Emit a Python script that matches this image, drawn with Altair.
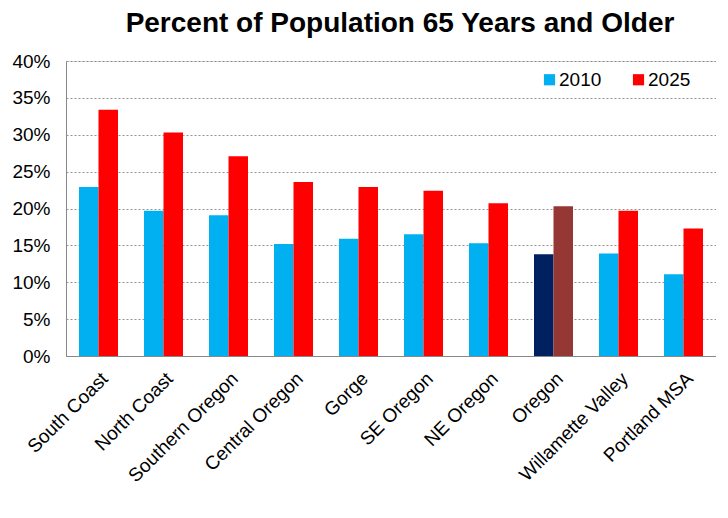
import altair as alt
import pandas as pd

regions = ["South Coast", "North Coast", "Southern Oregon", "Central Oregon", "Gorge",
           "SE Oregon", "NE Oregon", "Oregon", "Willamette Valley", "Portland MSA"]
pct_2010 = [22.9, 19.7, 19.1, 15.2, 15.9, 16.5, 15.3, 13.8, 13.9, 11.1]
pct_2025 = [33.4, 30.3, 27.1, 23.6, 22.9, 22.4, 20.7, 20.3, 19.7, 17.3]
years = ["2010", "2025"]
color_keys = ["2010", "2025", "Oregon 2010", "Oregon 2025"]
color_values = ["#00B0F0", "#FF0000", "#002060", "#953735"]

rows = []
for r, a, b in zip(regions, pct_2010, pct_2025):
    for y, v in zip(years, [a, b]):
        key = ("Oregon " + y) if r == "Oregon" else y
        rows.append({"region": r, "year": y, "value": v / 100.0, "key": key})
df = pd.DataFrame(rows)

chart = alt.Chart(df).mark_bar().encode(
    x=alt.X("region:N", sort=regions, title=None,
            scale=alt.Scale(paddingInner=0.4, paddingOuter=0.2),
            axis=alt.Axis(labelAngle=-45, labelAlign="right", labelBaseline="top",
                          labelFontSize=19, labelFont="Liberation Sans", labelColor="#000",
                          labelPadding=13, ticks=False, domainColor="#888", labelLimit=250)),
    xOffset=alt.XOffset("year:N", sort=years),
    y=alt.Y("value:Q", title=None,
            scale=alt.Scale(domain=[0, 0.4], nice=False),
            axis=alt.Axis(format=".0%", values=[0, 0.05, 0.1, 0.15, 0.2, 0.25, 0.3, 0.35, 0.4],
                          labelFontSize=19, labelFont="Liberation Sans", labelColor="#000",
                          labelPadding=16, ticks=False, domainColor="#888",
                          gridColor="#888", gridDash=[2, 2], gridOpacity=0.9)),
    color=alt.Color("key:N",
                    scale=alt.Scale(domain=color_keys, range=color_values),
                    legend=alt.Legend(title=None, values=years, orient="none",
                                      legendX=474, legendY=9, direction="horizontal",
                                      symbolType="square", symbolSize=125,
                                      symbolStrokeWidth=0, symbolOpacity=1,
                                      labelFontSize=19, labelFont="Liberation Sans",
                                      labelColor="#000", columnPadding=27, labelOffset=0)),
).properties(
    width=650,
    height=295,
    padding={"left": 58, "top": 53, "right": 0, "bottom": 150},
    autosize=alt.AutoSizeParams(type="none"),
    title=alt.TitleParams("Percent of Population 65 Years and Older",
                          font="Liberation Sans", fontSize=28, fontWeight="bold",
                          color="#000", offset=14, dx=9, anchor="middle"),
).configure_view(stroke=None).configure(background="white")

chart.save("out.html", embed_options={"renderer": "svg", "actions": False})
